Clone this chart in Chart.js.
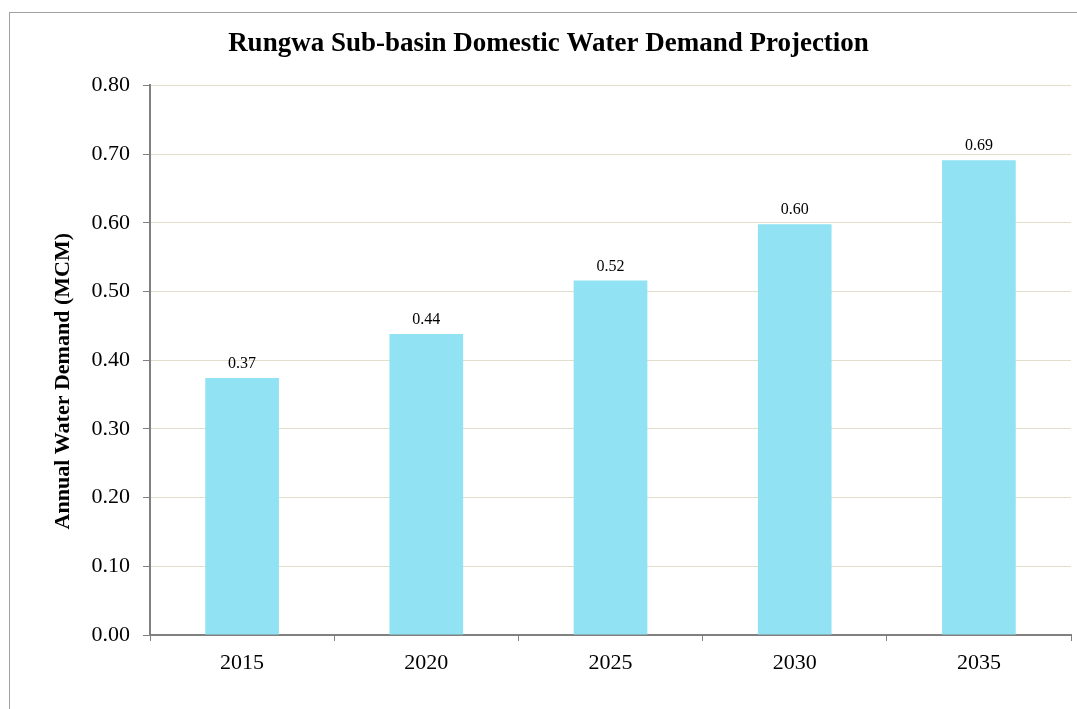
<!DOCTYPE html>
<html>
<head>
<meta charset="utf-8">
<script src="https://cdn.jsdelivr.net/npm/chart.js@4.4.1/dist/chart.umd.min.js"></script>
<style>
  html, body { margin: 0; padding: 0; background: #fff; overflow: hidden; }
  #wrap { position: relative; width: 1077px; height: 709px; }
  #frame { position: absolute; left: 9px; top: 12px; width: 1100px; height: 760px; border: 1px solid #a0a0a0; }
  canvas { position: absolute; left: 0; top: 0; }
</style>
</head>
<body>
<div id="wrap">
  <div id="frame"></div>
  <canvas id="demandChart" width="1077" height="709"></canvas>
</div>
<script>
// ---- DATA ----
const years = ['2015', '2020', '2025', '2030', '2035'];
const demand = [0.374, 0.438, 0.516, 0.598, 0.691];
const yTitle = 'Annual Water Demand (MCM)';

const serif = "'Liberation Serif', 'Times New Roman', serif";

// value labels above each bar + rotated y axis title
const extras = {
  id: 'extras',
  afterDatasetsDraw(chart) {
    const ctx = chart.ctx;
    const meta = chart.getDatasetMeta(0);
    ctx.save();
    ctx.font = '16px ' + serif;
    ctx.fillStyle = '#000';
    ctx.textAlign = 'center';
    ctx.textBaseline = 'bottom';
    meta.data.forEach((bar, i) => {
      ctx.fillText(demand[i].toFixed(2), bar.x, bar.y - 6);
    });

    const area = chart.chartArea;
    ctx.translate(63, (area.top + area.bottom) / 2 + 21);
    ctx.rotate(-Math.PI / 2);
    ctx.font = 'bold 22px ' + serif;
    ctx.textBaseline = 'middle';
    ctx.fillText(yTitle, 0, 0);
    ctx.restore();
  }
};

new Chart(document.getElementById('demandChart'), {
  type: 'bar',
  data: {
    labels: years,
    datasets: [{
      data: demand,
      backgroundColor: '#91E2F3',
      borderWidth: 0,
      categoryPercentage: 1,
      barPercentage: 0.4,
    }],
  },
  options: {
    responsive: false,
    animation: false,
    layout: { padding: { left: 26, right: 6, top: 28, bottom: 0 } },
    plugins: {
      legend: { display: false },
      tooltip: { enabled: false },
      title: {
        display: true,
        text: 'Rungwa Sub-basin Domestic Water Demand Projection',
        color: '#000',
        font: { family: serif, size: 27, weight: 'bold' },
        padding: { top: 0, bottom: 25 },
      },
    },
    scales: {
      x: {
        grid: { offset: true, drawOnChartArea: false, tickLength: 6, color: '#808080' },
        border: { color: '#808080', width: 2 },
        ticks: { color: '#000', font: { family: serif, size: 22 }, padding: 9 },
        afterFit: s => { s.height = 74; },
      },
      y: {
        min: 0,
        max: 0.8,
        grid: { color: '#E2DECB', tickColor: '#808080', tickLength: 7 },
        border: { color: '#808080', width: 2 },
        ticks: {
          stepSize: 0.1,
          color: '#000',
          font: { family: serif, size: 22 },
          padding: 13,
          callback: v => v.toFixed(2),
        },
        afterFit: s => { s.width = 124; },
      },
    },
  },
  plugins: [extras],
});
</script>
</body>
</html>
